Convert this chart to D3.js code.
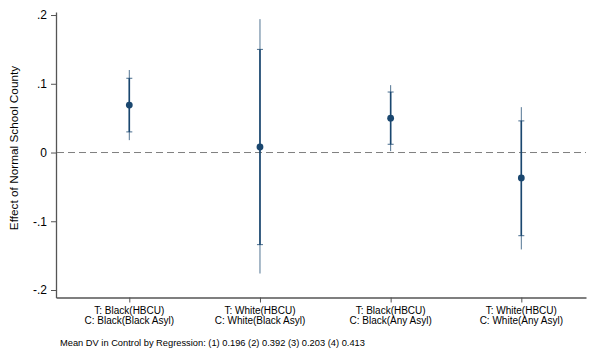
<!DOCTYPE html>
<html>
<head>
<meta charset="utf-8">
<script src="https://cdn.jsdelivr.net/npm/d3@7"></script>
<style>
  body { margin: 0; background: #fff; }
  svg { display: block; font-family: "Liberation Sans", Arial, sans-serif; }
</style>
</head>
<body>
<div id="chart"></div>
<script>
'use strict';

// coefficient estimates
var treated = ['T: Black(HBCU)', 'T: White(HBCU)', 'T: Black(HBCU)', 'T: White(HBCU)'];
var control = ['C: Black(Black Asyl)', 'C: White(Black Asyl)', 'C: Black(Any Asyl)', 'C: White(Any Asyl)'];
var estimate = [0.069, 0.008, 0.050, -0.037];
var ci90Low = [0.030, -0.134, 0.012, -0.121];
var ci90High = [0.108, 0.150, 0.088, 0.046];
var ci95Low = [0.018, -0.176, 0.002, -0.141];
var ci95High = [0.120, 0.194, 0.098, 0.066];
var yTicks = [-0.2, -0.1, 0, 0.1, 0.2];
var yTickLabels = ['-.2', '-.1', '0', '.1', '.2'];
var yTitle = 'Effect of Normal School County';
var note = 'Mean DV in Control by Regression: (1) 0.196 (2) 0.392 (3) 0.203 (4) 0.413';

var width = 589, height = 352;
var navy = '#1a476f';
var axisColor = '#555';

var data = estimate.map(function(d, i) {
  return { pos: i + 1, est: d, lo90: ci90Low[i], hi90: ci90High[i], lo95: ci95Low[i], hi95: ci95High[i] };
});

var svg = d3.select('#chart').append('svg')
  .attr('width', width)
  .attr('height', height);

var x = d3.scaleLinear().domain([0.439, 4.495]).range([56, 586]);
var y = d3.scaleLinear().domain([-0.2109, 0.2044]).range([297.5, 12]);

// y axis
var yAxis = svg.append('g')
  .attr('transform', 'translate(56,0)')
  .call(d3.axisLeft(y)
    .tickValues(yTicks)
    .tickSizeInner(5)
    .tickSizeOuter(0)
    .tickPadding(4)
    .tickFormat(function(d, i) { return yTickLabels[i]; }));
yAxis.select('.domain').attr('stroke', axisColor).attr('stroke-width', 1.3);
yAxis.selectAll('.tick line').attr('stroke', axisColor);
yAxis.selectAll('.tick text')
  .attr('fill', '#000')
  .attr('font-size', 12)
  .attr('font-family', '"Liberation Sans", Arial, sans-serif');

// x axis
var xAxis = svg.append('g')
  .attr('transform', 'translate(0,297.5)')
  .call(d3.axisBottom(x)
    .tickValues(data.map(function(d) { return d.pos; }))
    .tickSizeInner(5)
    .tickSizeOuter(0)
    .tickFormat(''));
xAxis.select('.domain').attr('stroke', axisColor).attr('stroke-width', 1.3);
xAxis.selectAll('.tick line').attr('stroke', axisColor);

var labels = svg.append('g')
  .attr('font-size', 10)
  .attr('fill', '#000')
  .attr('text-anchor', 'middle')
  .selectAll('text')
  .data(data)
  .enter().append('text')
  .attr('x', function(d) { return x(d.pos); });
labels.append('tspan')
  .attr('x', function(d) { return x(d.pos); })
  .attr('y', 313.5)
  .text(function(d, i) { return treated[i]; });
labels.append('tspan')
  .attr('x', function(d) { return x(d.pos); })
  .attr('y', 324)
  .text(function(d, i) { return control[i]; });

// zero reference line
svg.append('line')
  .attr('x1', 57).attr('x2', 586)
  .attr('y1', y(0)).attr('y2', y(0))
  .attr('stroke', '#7f7f7f')
  .attr('stroke-width', 1)
  .attr('stroke-dasharray', '7,4');

var marks = svg.append('g').selectAll('g')
  .data(data)
  .enter().append('g');

// 95% interval
marks.append('line')
  .attr('x1', function(d) { return x(d.pos); })
  .attr('x2', function(d) { return x(d.pos); })
  .attr('y1', function(d) { return y(d.hi95); })
  .attr('y2', function(d) { return y(d.lo95); })
  .attr('stroke', navy)
  .attr('stroke-opacity', 0.75)
  .attr('stroke-width', 1);

// 90% interval
marks.append('line')
  .attr('x1', function(d) { return x(d.pos); })
  .attr('x2', function(d) { return x(d.pos); })
  .attr('y1', function(d) { return y(d.hi90); })
  .attr('y2', function(d) { return y(d.lo90); })
  .attr('stroke', navy)
  .attr('stroke-width', 1.6);

// caps at the 90% ends
['hi90', 'lo90'].forEach(function(k) {
  marks.append('line')
    .attr('x1', function(d) { return x(d.pos) - 3; })
    .attr('x2', function(d) { return x(d.pos) + 3; })
    .attr('y1', function(d) { return y(d[k]); })
    .attr('y2', function(d) { return y(d[k]); })
    .attr('stroke', navy)
    .attr('stroke-opacity', 0.8)
    .attr('stroke-width', 1);
});

marks.append('circle')
  .attr('cx', function(d) { return x(d.pos); })
  .attr('cy', function(d) { return y(d.est); })
  .attr('r', 3.4)
  .attr('fill', navy);

// y title
svg.append('text')
  .attr('transform', 'translate(17.5,148) rotate(-90)')
  .attr('text-anchor', 'middle')
  .attr('font-size', 11.8)
  .attr('fill', '#000')
  .text(yTitle);

// note
svg.append('text')
  .attr('x', 60)
  .attr('y', 346)
  .attr('font-size', 9.3)
  .attr('fill', '#000')
  .text(note);
</script>
</body>
</html>
